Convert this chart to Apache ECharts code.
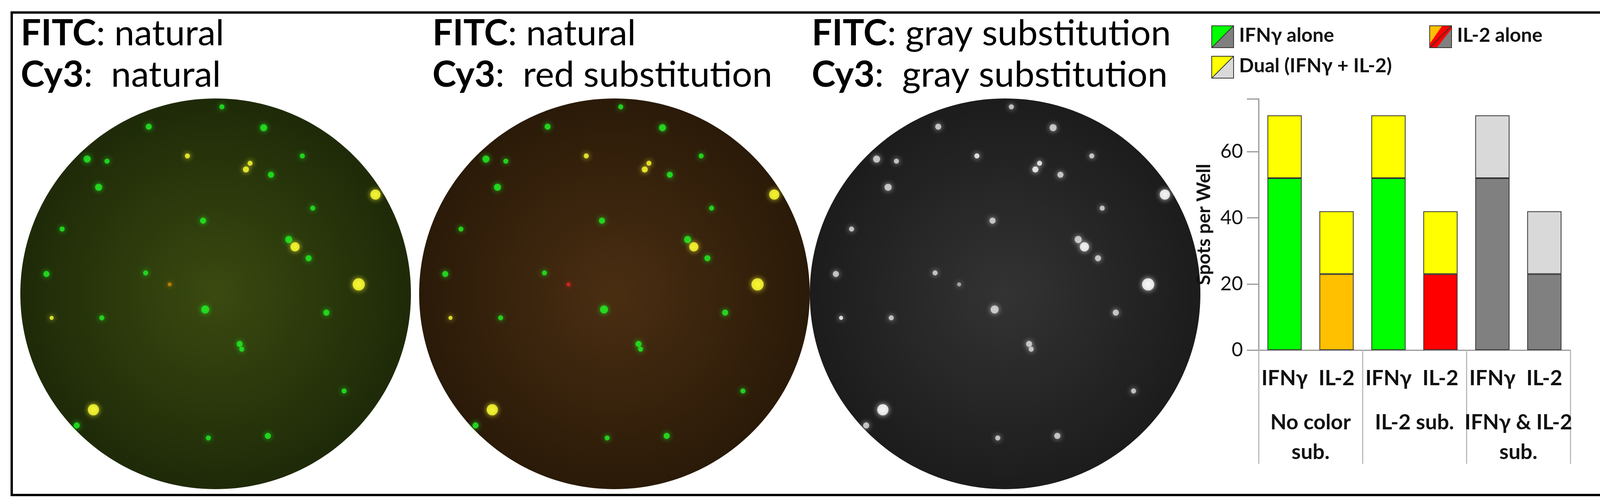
<!DOCTYPE html>
<html><head><meta charset="utf-8">
<script src="https://cdn.jsdelivr.net/npm/echarts@6/dist/echarts.min.js"></script>
<style>html,body{margin:0;padding:0;background:#fff}#c{width:4180px;height:1290px}</style>
</head><body><div id="c"></div>
<script>
const categories = ['IFNγ','IL-2','IFNγ','IL-2','IFNγ','IL-2'];
const groups = ['No color\nsub.','IL-2 sub.','IFNγ & IL-2\nsub.'];
const aloneValues = [52, 23, 52, 23, 52, 23];
const dualValues = [19, 19, 19, 19, 19, 19];
const aloneColors = ['#00ff00','#ffc000','#00ff00','#ff0000','#808080','#808080'];
const dualColors = ['#ffff00','#ffff00','#ffff00','#ffff00','#d9d9d9','#d9d9d9'];
const yTicks = [0,20,40,60];
// approximate spot positions in the well photos (same well, three colourings): [x, y, size, kind]
const spots = [[213,103,5,'g'],[143,122,6,'g'],[253,123,7,'g'],[84,153,7,'g'],[103,155,5,'g'],[180,150,5,'y'],
 [240,157,5,'y'],[236,163,6,'y'],[260,168,6,'g'],[95,180,7,'g'],[360,187,10,'y'],[45,263,6,'g'],[197,297,8,'g'],
 [277,230,7,'g'],[283,237,9,'y'],[296,248,6,'g'],[344,273,12,'y'],[313,300,6,'g'],[90,393,11,'y'],[74,408,6,'g'],
 [200,420,5,'g'],[257,418,6,'g'],[140,262,5,'g'],[98,305,5,'g'],[230,330,6,'g'],[330,375,5,'g'],
 [290,150,5,'g'],[163,273,4,'r'],[50,305,4,'y'],[232,335,5,'g'],[195,212,6,'g'],[60,220,5,'g'],[300,200,5,'g']];
const panelCenters = [552, 1573, 2573];
const panelColors = [{g:'#22ee22',y:'#ffff33',r:'#cc8800'},{g:'#22ee22',y:'#ffff33',r:'#ee2222'},{g:'#dddddd',y:'#ffffff',r:'#bbbbbb'}];
const panelBg = [['#3a4a10','#1e2a08'],['#4a2e12','#2a1a08'],['#333333','#1c1c1c']];
const titles = [['natural','natural'],['natural','red substitution'],['gray substitution','gray substitution']];

const chart = echarts.init(document.getElementById('c'));
const FONT = 'Lato';
const grids = [], xAxes = [], yAxes = [], series = [], graphics = [];
grids.push({left:3222, width:798, top:253, height:643, outerBoundsMode:'none', containLabel:false});
xAxes.push({type:'category', gridIndex:0, data:categories, axisLine:{lineStyle:{color:'#999',width:3}}, axisTick:{show:false},
  axisLabel:{interval:0, margin:46, fontSize:54, fontWeight:'bold', color:'#111', fontFamily:FONT}});
xAxes.push({type:'category', gridIndex:0, data:groups, position:'bottom', axisLine:{show:false},
  axisTick:{show:true, interval:0, length:291, lineStyle:{color:'#bbb',width:3}},
  axisLabel:{interval:0, margin:148, fontSize:54, fontWeight:'bold', color:'#111', lineHeight:76, fontFamily:FONT}});
yAxes.push({type:'value', gridIndex:0, min:0, max:76, interval:20, splitLine:{show:false},
  axisLine:{show:true, lineStyle:{color:'#999',width:3}}, axisTick:{show:true,length:30,lineStyle:{color:'#999',width:3}},
  axisLabel:{fontSize:50, color:'#111', margin:40, fontFamily:FONT, formatter:v=>yTicks.includes(v)?String(v):''},
  name:'Spots per Well', nameLocation:'middle', nameGap:115, nameTextStyle:{fontSize:48, fontWeight:'bold', color:'#111', fontFamily:FONT}});
series.push({type:'bar', name:'alone', stack:'s', xAxisIndex:0, yAxisIndex:0, barWidth:'66%',
  data:aloneValues.map((v,i)=>({value:v, itemStyle:{color:aloneColors[i]}})), itemStyle:{borderColor:'#333',borderWidth:2}});
series.push({type:'bar', name:'dual', stack:'s', xAxisIndex:0, yAxisIndex:0, barWidth:'66%',
  data:dualValues.map((v,i)=>({value:v, itemStyle:{color:dualColors[i]}})), itemStyle:{borderColor:'#333',borderWidth:2}});
panelCenters.forEach((cx,p)=>{
  graphics.push({type:'ellipse', z:0, shape:{cx:cx, cy:752, rx:500, ry:500},
    style:{fill:new echarts.graphic.RadialGradient(0.5,0.5,0.5,[{offset:0,color:panelBg[p][0]},{offset:1,color:panelBg[p][1]}])}});
  const gi = grids.length;
  grids.push({left:cx-500, top:252, width:1000, height:1000, outerBoundsMode:'none'});
  const xi = xAxes.length, yi = yAxes.length;
  xAxes.push({type:'value', gridIndex:gi, min:20, max:394, show:false});
  yAxes.push({type:'value', gridIndex:gi, min:95, max:469, inverse:true, show:false});
  series.push({type:'scatter', xAxisIndex:xi, yAxisIndex:yi, zlevel:1, silent:true,
    data:spots.map(s=>({value:[s[0],s[1]], symbolSize:s[2]*2.6,
      itemStyle:{color:panelColors[p][s[3]], shadowBlur:14, shadowColor:panelColors[p][s[3]]}}))});
  const tx = [53, 1107, 2078][p];
  const rich = {b:{fontWeight:'bold',fontSize:92,fontFamily:FONT,fill:'#000'},n:{fontSize:92,fontFamily:FONT,fill:'#000'}};
  graphics.push({type:'text', left:tx, top:40, style:{rich:rich, text:'{b|FITC}{n|: '+titles[p][0]+'}'}});
  graphics.push({type:'text', left:tx, top:146, style:{rich:rich, text:'{b|Cy3}{n|:  '+titles[p][1]+'}'}});
});
graphics.push({type:'rect', z:10, shape:{x:30,y:32,width:4120,height:1235}, style:{fill:null, stroke:'#000', lineWidth:6}});
function icon(x,y,c1,c2){
  const s=56;
  graphics.push({type:'polygon', z:11, shape:{points:[[x,y],[x+s,y],[x,y+s]]}, style:{fill:c1}});
  graphics.push({type:'polygon', z:11, shape:{points:[[x+s,y],[x+s,y+s],[x,y+s]]}, style:{fill:c2}});
}
function frame(x,y){
  const s=56;
  graphics.push({type:'rect', z:13, shape:{x:x,y:y,width:s,height:s}, style:{fill:null,stroke:'#333',lineWidth:2}});
  graphics.push({type:'line', z:13, shape:{x1:x+s,y1:y,x2:x,y2:y+s}, style:{stroke:'#333',lineWidth:2}});
}
icon(3102,66,'#00ff00','#808080'); frame(3102,66);
icon(3660,66,'#ffc000','#808080');
graphics.push({type:'polygon', z:12, shape:{points:[[3660+32,66],[3660+56,66],[3660+56,66+8],[3660+18,66+56],[3660,66+56],[3660,66+46]]}, style:{fill:'#ff0000'}});
frame(3660,66);
icon(3102,144,'#ffff00','#d9d9d9'); frame(3102,144);
const legStyle = {fontSize:50, fontWeight:'bold', fontFamily:FONT, fill:'#111'};
graphics.push({type:'text', z:13, left:3172, top:66, style:Object.assign({text:'IFNγ alone'},legStyle)});
graphics.push({type:'text', z:13, left:3730, top:66, style:Object.assign({text:'IL-2 alone'},legStyle)});
graphics.push({type:'text', z:13, left:3172, top:144, style:Object.assign({text:'Dual (IFNγ + IL-2)'},legStyle)});

chart.setOption({animation:false, backgroundColor:'#fff', grid:grids, xAxis:xAxes, yAxis:yAxes, series:series, graphic:graphics});
</script></body></html>
